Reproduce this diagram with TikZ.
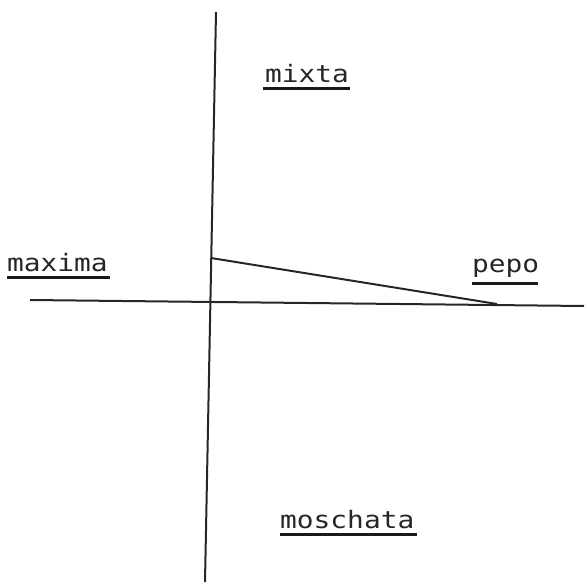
\documentclass[tikz,border=0pt]{standalone}
\usepackage{fontspec}
\usepackage{graphicx}
\newfontfamily\labfont{DejaVu Sans Mono}
\newcommand{\wlab}[1]{\scalebox{1.16}[1]{#1}}
\begin{document}
\begin{tikzpicture}[x=1pt,y=-1pt,
  axis/.style={line width=2pt,black!85},
  lab/.style={anchor=base west,inner sep=0pt,font=\labfont\fontsize{24}{24}\selectfont,text=black!85},
  uline/.style={line width=3pt,black!90}]
\useasboundingbox (0,0) rectangle (584,586);
% axes
\coordinate (vtop) at (216,12);
\coordinate (vbot) at (205,582);
\coordinate (hleft) at (30,300);
\coordinate (hright) at (584,306);
\draw[axis] (vtop) -- (vbot);
\draw[axis] (hleft) -- (hright);
% oblique line
\coordinate (o1) at (211,258);
\coordinate (o2) at (497,304);
\draw[axis] (o1) -- (o2);
% labels
\node[lab] (mixta) at (265,82) {\wlab{mixta}};
\draw[uline] (mixta.base west) ++(-2,6) -- ++(87,0);
\node[lab] (maxima) at (7,271) {\wlab{maxima}};
\draw[uline] (maxima.base west) ++(0,6) -- ++(103,0);
\node[lab] (pepo) at (472,272) {\wlab{pepo}};
\draw[uline] (pepo.base west) ++(0,11) -- ++(66,0);
\node[lab] (moschata) at (280,528) {\wlab{moschata}};
\draw[uline] (moschata.base west) ++(0,6) -- ++(137,0);
\end{tikzpicture}
\end{document}
